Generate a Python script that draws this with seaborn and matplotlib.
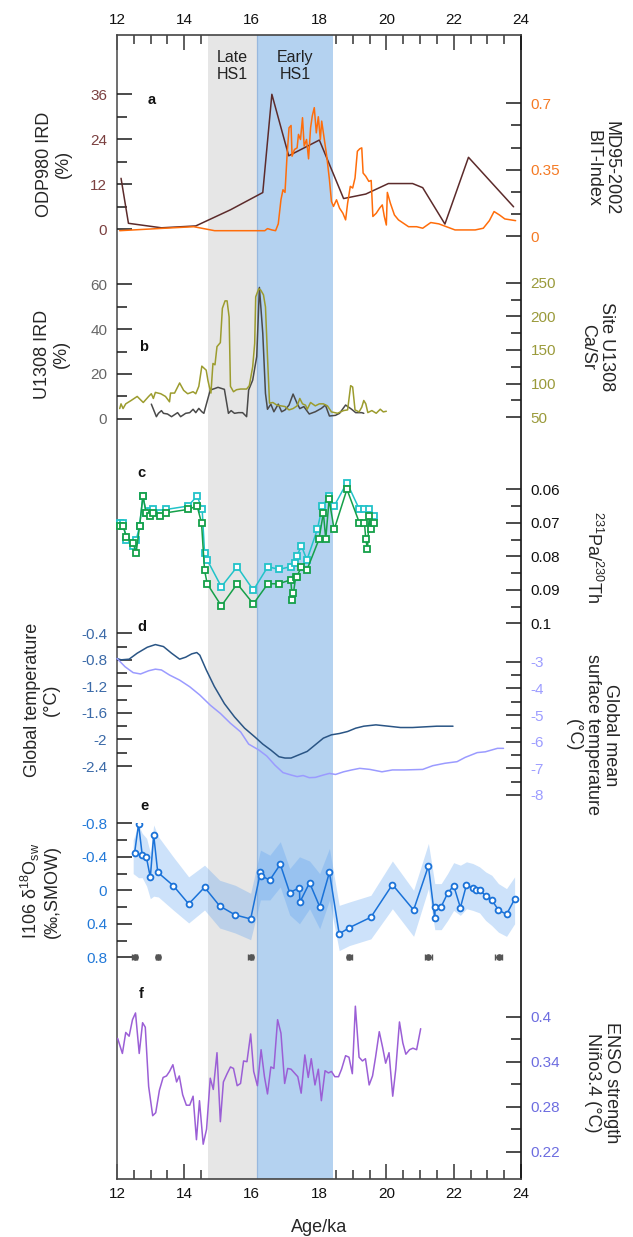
import numpy as np
import pandas as pd
import matplotlib
matplotlib.use("Agg")
import matplotlib.pyplot as plt
import matplotlib.transforms as mtransforms
from matplotlib.ticker import MultipleLocator, FixedLocator
import seaborn as sns

sns.set_theme(style="ticks")
plt.rcParams['font.family'] = ['Liberation Sans', 'DejaVu Sans']
plt.rcParams['mathtext.fontset'] = 'custom'
plt.rcParams['mathtext.rm'] = 'Liberation Sans'
plt.rcParams['mathtext.it'] = 'Liberation Sans:italic'
plt.rcParams['axes.unicode_minus'] = False

# ---------------- data ----------------
late_hs1 = [14.70, 16.15]
early_hs1 = [16.15, 18.43]

# a : ODP980 IRD (%) and MD95-2002 BIT index
ird_age = [12.12, 12.34, 13.32, 14.34, 15.37, 16.33, 16.60, 17.10, 18.01, 18.73,
           19.39, 20.06, 20.78, 21.08, 21.74, 22.44, 23.78]
ird_val = [13.6, 1.6, 0.4, 0.9, 5.2, 9.8, 36.0, 19.6, 23.8, 8.2,
           9.4, 12.2, 12.2, 11.1, 1.4, 19.2, 6.0]

bit_age = [12.08, 13.20, 14.28, 14.90, 16.39, 16.47, 16.60, 16.71, 16.79, 16.87,
           16.93, 16.99, 17.05, 17.11, 17.17, 17.20, 17.27, 17.35, 17.39, 17.45,
           17.51, 17.56, 17.63, 17.69, 17.75, 17.80, 17.86, 17.92, 17.98, 18.04,
           18.08, 18.13, 18.23, 18.31, 18.37, 18.43, 18.52, 18.61, 18.71, 18.79,
           18.85, 18.93, 19.00, 19.07, 19.14, 19.21, 19.27, 19.31, 19.39, 19.48,
           19.55, 19.60, 19.70, 19.80, 19.88, 19.94, 20.00, 20.03, 20.12, 20.24,
           20.36, 20.66, 20.90, 21.08, 21.32, 21.56, 21.86, 22.04, 22.34, 22.64,
           22.88, 23.06, 23.20, 23.36, 23.52, 23.84]
bit_val = [0.028, 0.039, 0.049, 0.028, 0.028, 0.039, 0.032, 0.028, 0.064, 0.191,
           0.244, 0.230, 0.421, 0.571, 0.583, 0.421, 0.456, 0.465, 0.536, 0.509,
           0.624, 0.474, 0.509, 0.407, 0.571, 0.633, 0.677, 0.544, 0.629, 0.509,
           0.606, 0.544, 0.421, 0.297, 0.182, 0.156, 0.191, 0.147, 0.120, 0.085,
           0.173, 0.262, 0.253, 0.306, 0.447, 0.460, 0.465, 0.332, 0.315, 0.288,
           0.293, 0.103, 0.120, 0.147, 0.164, 0.103, 0.058, 0.230, 0.173, 0.111,
           0.085, 0.049, 0.049, 0.041, 0.071, 0.064, 0.044, 0.032, 0.032, 0.032,
           0.041, 0.081, 0.129, 0.111, 0.090, 0.081]

# b : U1308 IRD (%) and Ca/Sr
u1308_age = [13.02, 13.17, 13.23, 13.32, 13.38, 13.50, 13.62, 13.80, 13.89, 14.04,
             14.16, 14.26, 14.34, 14.43, 14.52, 14.58, 14.77, 14.89, 15.00, 15.19,
             15.31, 15.39, 15.49, 15.61, 15.73, 15.85, 15.91, 16.03, 16.15, 16.23,
             16.33, 16.41, 16.47, 16.57, 16.66, 16.79, 16.89, 16.99, 17.11, 17.23,
             17.35, 17.43, 17.55, 17.71, 17.89, 18.07, 18.19, 18.31, 18.49, 18.61,
             18.79, 18.97, 19.09, 19.27, 19.33]
u1308_ird = [6.5, 0.9, 2.4, 3.6, 2.4, 2.1, 0.9, 2.7, 0.9, 2.4,
             2.7, 4.2, 2.7, 4.6, 3.1, 2.4, 12.8, 13.4, 14.0, 13.1,
             2.4, 3.6, 2.4, 2.7, 2.7, 0.9, 12.8, 17.2, 27.7, 58.6,
             38.1, 11.3, 4.2, 6.5, 3.1, 6.5, 3.1, 3.9, 6.1, 11.0,
             6.8, 4.5, 5.4, 2.1, 3.1, 4.6, 6.1, 1.2, 1.5, 2.4,
             6.1, 4.2, 2.7, 2.7, 2.4]

casr_age = [12.08, 12.12, 12.18, 12.26, 12.42, 12.60, 12.78, 12.94, 13.02, 13.08,
            13.14, 13.30, 13.44, 13.56, 13.59, 13.71, 13.86, 13.98, 14.10, 14.26,
            14.34, 14.43, 14.52, 14.65, 14.70, 14.74, 14.79, 14.85, 14.91, 14.97,
            15.07, 15.13, 15.21, 15.27, 15.33, 15.37, 15.46, 15.55, 15.67, 15.85,
            15.93, 16.03, 16.09, 16.12, 16.21, 16.27, 16.35, 16.41, 16.47, 16.53,
            16.63, 16.75, 16.87, 16.99, 17.11, 17.23, 17.35, 17.43, 17.51, 17.60,
            17.65, 17.75, 17.89, 18.01, 18.13, 18.25, 18.37, 18.55, 18.73, 18.85,
            18.94, 19.00, 19.07, 19.19, 19.27, 19.33, 19.39, 19.45, 19.57, 19.70,
            19.82, 19.91, 20.00]
casr_val = [63, 70, 63, 70, 75, 81, 72, 81, 85, 78,
            87, 85, 81, 73, 86, 86, 101, 90, 85, 88,
            85, 96, 126, 120, 105, 96, 86, 130, 128, 155,
            161, 212, 223, 223, 199, 96, 88, 91, 92, 92,
            97, 125, 160, 229, 241, 239, 232, 214, 140, 71,
            72, 68, 67, 66, 61, 63, 67, 78, 70, 68,
            62, 72, 67, 70, 70, 67, 58, 56, 60, 61,
            97, 95, 61, 58, 65, 75, 70, 57, 60, 56,
            62, 58, 59]

# c : 231Pa/230Th
pa_cyan_age = [12.08, 12.18, 12.28, 12.48, 12.57, 12.67, 12.77, 12.87, 12.97, 13.07,
               13.27, 13.47, 14.11, 14.38, 14.53, 14.60, 14.68, 15.10, 15.57, 16.05,
               16.48, 16.81, 17.16, 17.28, 17.34, 17.48, 17.64, 17.95, 18.10, 18.30,
               18.45, 18.83, 19.20, 19.35, 19.49, 19.64]
pa_cyan_val = [0.0702, 0.0702, 0.0751, 0.0770, 0.0751, 0.0710, 0.0620, 0.0672, 0.0665, 0.0660,
               0.0672, 0.0660, 0.0650, 0.0620, 0.0660, 0.0789, 0.0811, 0.0891, 0.0831, 0.0901,
               0.0831, 0.0839, 0.0831, 0.0819, 0.0799, 0.0769, 0.0811, 0.0720, 0.0650, 0.0620,
               0.0650, 0.0580, 0.0660, 0.0660, 0.0660, 0.0680]
pa_green_age = [12.08, 12.18, 12.28, 12.48, 12.57, 12.67, 12.77, 12.87, 12.97, 13.07,
                13.27, 13.47, 14.11, 14.38, 14.51, 14.60, 14.68, 15.10, 15.57, 16.05,
                16.48, 16.81, 17.16, 17.21, 17.24, 17.31, 17.34, 17.48, 17.64, 18.00,
                18.13, 18.20, 18.30, 18.45, 18.83, 19.20, 19.35, 19.39, 19.44, 19.49,
                19.54, 19.64]
pa_green_val = [0.0710, 0.0710, 0.0741, 0.0761, 0.0789, 0.0710, 0.0620, 0.0672, 0.0680, 0.0672,
                0.0680, 0.0670, 0.0660, 0.0650, 0.0700, 0.0841, 0.0882, 0.0948, 0.0882, 0.0942,
                0.0882, 0.0882, 0.0870, 0.0930, 0.0910, 0.0861, 0.0861, 0.0831, 0.0841, 0.0749,
                0.0670, 0.0749, 0.0630, 0.0720, 0.0600, 0.0700, 0.0700, 0.0749, 0.0779, 0.0680,
                0.0720, 0.0700]

# d : global temperature (left) and global mean surface temperature (right)
gt_age = [12.00, 12.12, 12.36, 12.60, 12.90, 13.14, 13.38, 13.62, 13.86, 14.04,
          14.22, 14.37, 14.46, 14.65, 14.89, 15.19, 15.49, 15.79, 16.09, 16.33,
          16.57, 16.81, 16.99, 17.17, 17.41, 17.65, 17.89, 18.13, 18.37, 18.61,
          18.85, 19.09, 19.33, 19.69, 20.06, 20.42, 20.78, 21.14, 21.50, 21.98]
gt_val = [-0.78, -0.80, -0.79, -0.70, -0.61, -0.57, -0.60, -0.70, -0.79, -0.76,
          -0.71, -0.69, -0.73, -0.95, -1.20, -1.46, -1.66, -1.83, -1.96, -2.07,
          -2.16, -2.26, -2.28, -2.28, -2.23, -2.18, -2.08, -1.98, -1.93, -1.91,
          -1.88, -1.83, -1.80, -1.78, -1.80, -1.82, -1.82, -1.81, -1.80, -1.80]
gmst_age = [12.00, 12.24, 12.48, 12.70, 12.94, 13.14, 13.32, 13.56, 13.86, 14.16,
            14.46, 14.77, 15.07, 15.37, 15.67, 15.91, 16.21, 16.45, 16.69, 16.93,
            17.17, 17.35, 17.53, 17.71, 17.89, 18.13, 18.31, 18.49, 18.73, 18.97,
            19.21, 19.51, 19.87, 20.18, 20.54, 21.08, 21.38, 21.74, 22.10, 22.34,
            22.70, 22.94, 23.30, 23.48]
gmst_val = [-2.88, -3.19, -3.41, -3.46, -3.34, -3.28, -3.31, -3.50, -3.69, -3.94,
            -4.25, -4.63, -4.94, -5.31, -5.63, -6.09, -6.31, -6.54, -6.88, -7.16,
            -7.25, -7.31, -7.27, -7.35, -7.34, -7.25, -7.19, -7.23, -7.13, -7.06,
            -7.00, -7.04, -7.13, -7.06, -7.06, -7.04, -6.90, -6.81, -6.75, -6.59,
            -6.41, -6.38, -6.25, -6.25]

# e : I106 d18Osw with uncertainty band and dated levels
d18o_age = [12.52, 12.64, 12.75, 12.87, 12.99, 13.09, 13.21, 13.67, 14.13, 14.60,
            15.05, 15.51, 15.97, 16.26, 16.27, 16.54, 16.85, 17.13, 17.42, 17.43,
            17.72, 18.02, 18.31, 18.60, 18.90, 19.54, 20.18, 20.81, 21.25, 21.44,
            21.45, 21.63, 21.82, 22.00, 22.20, 22.38, 22.57, 22.65, 22.77, 22.95,
            23.13, 23.33, 23.57, 23.81]
d18o_val = [-0.44, -0.79, -0.42, -0.40, -0.155, -0.66, -0.215, -0.056, 0.163, -0.036,
            0.187, 0.294, 0.342, -0.215, -0.175, -0.123, -0.31, 0.028, -0.032, 0.143,
            -0.09, 0.195, -0.215, 0.521, 0.446, 0.322, -0.068, 0.235, -0.29, 0.334,
            0.195, 0.195, 0.036, -0.056, 0.207, -0.064, -0.024, 0.0, 0.0, 0.064,
            0.115, 0.235, 0.287, 0.107]
env_age = [12.48, 12.64, 12.75, 12.88, 12.99, 13.09, 13.23, 13.67, 14.13, 14.60,
           15.05, 15.51, 15.97, 16.26, 16.54, 16.85, 17.13, 17.42, 17.72, 18.02,
           18.31, 18.60, 18.90, 19.54, 20.18, 20.81, 21.25, 21.44, 21.63, 21.82,
           22.00, 22.20, 22.38, 22.57, 22.77, 22.95, 23.13, 23.33, 23.57, 23.81]
env_hi = [-0.60, -0.78, -0.68, -0.62, -0.45, -0.78, -0.64, -0.40, -0.16, -0.30,
          -0.12, -0.06, 0.036, -0.48, -0.42, -0.58, -0.26, -0.40, -0.35, -0.20,
          -0.50, 0.18, 0.14, 0.06, -0.35, 0.00, -0.56, -0.08, -0.08, -0.20,
          -0.33, -0.30, -0.34, -0.32, -0.28, -0.22, -0.18, -0.08, -0.02, -0.16]
env_lo = [-0.20, -0.15, -0.15, -0.05, 0.10, 0.07, 0.08, 0.235, 0.39, 0.235,
          0.45, 0.51, 0.59, 0.115, 0.115, -0.04, 0.295, 0.40, 0.22, 0.46,
          0.12, 0.72, 0.66, 0.58, 0.22, 0.55, -0.02, 0.47, 0.47, 0.36,
          0.24, 0.30, 0.22, 0.24, 0.27, 0.36, 0.42, 0.50, 0.55, 0.40]
date_age = [12.52, 13.21, 15.97, 18.90, 21.25, 23.34]
date_err = [0.06, 0.06, 0.08, 0.08, 0.10, 0.10]
date_lvl = [0.8, 0.8, 0.8, 0.8, 0.8, 0.8]

# f : ENSO strength
enso_age = [12.02, 12.16, 12.26, 12.36, 12.46, 12.55, 12.66, 12.76, 12.84, 12.94,
            13.06, 13.15, 13.26, 13.37, 13.47, 13.56, 13.66, 13.77, 13.85, 13.95,
            14.06, 14.16, 14.26, 14.36, 14.45, 14.56, 14.66, 14.77, 14.86, 14.97,
            15.07, 15.16, 15.27, 15.37, 15.46, 15.57, 15.67, 15.76, 15.86, 15.97,
            16.06, 16.17, 16.28, 16.38, 16.47, 16.57, 16.66, 16.77, 16.87, 16.98,
            17.07, 17.17, 17.27, 17.37, 17.47, 17.58, 17.68, 17.77, 17.88, 17.98,
            18.07, 18.18, 18.28, 18.37, 18.47, 18.58, 18.67, 18.79, 18.89, 18.99,
            19.08, 19.19, 19.29, 19.38, 19.49, 19.59, 19.68, 19.79, 19.89, 19.98,
            20.08, 20.19, 20.28, 20.39, 20.49, 20.58, 20.69, 20.79, 20.90, 21.02]
enso_val = [0.371, 0.351, 0.379, 0.374, 0.396, 0.405, 0.351, 0.392, 0.386, 0.307,
            0.268, 0.272, 0.302, 0.319, 0.321, 0.327, 0.336, 0.313, 0.321, 0.296,
            0.282, 0.282, 0.294, 0.236, 0.288, 0.230, 0.250, 0.318, 0.303, 0.352,
            0.260, 0.313, 0.324, 0.333, 0.331, 0.308, 0.311, 0.341, 0.340, 0.377,
            0.327, 0.308, 0.356, 0.320, 0.297, 0.333, 0.331, 0.396, 0.378, 0.311,
            0.331, 0.330, 0.325, 0.320, 0.298, 0.349, 0.319, 0.344, 0.309, 0.330,
            0.288, 0.328, 0.325, 0.327, 0.320, 0.320, 0.330, 0.348, 0.346, 0.324,
            0.414, 0.346, 0.341, 0.344, 0.309, 0.321, 0.346, 0.380, 0.359, 0.338,
            0.352, 0.294, 0.330, 0.393, 0.365, 0.350, 0.356, 0.358, 0.356, 0.384]

# ---------------- layout (pixels of the 633 x 1237 canvas) ----------------
W, H = 633, 1237
X0, X1 = 117, 521
TOP, BOT = 35, 1179


def fy(px):
    return 1 - px / H


fig = plt.figure(figsize=(W / 100, H / 100), dpi=100)

ax0 = fig.add_axes([X0 / W, fy(BOT), (X1 - X0) / W, (BOT - TOP) / H])
ax0.set_xlim(12, 24)
ax0.set_ylim(0, 1)
ax0.set_yticks([])
ax0.axvspan(*late_hs1, color='#e6e6e6', lw=0)
ax0.axvspan(*early_hs1, color='#b4d2f0', lw=0)
ax0.axvline(early_hs1[0], color='#98b8de', lw=0.9)
ax0.xaxis.set_major_locator(MultipleLocator(2))
ax0.xaxis.set_minor_locator(MultipleLocator(0.5))
ax0.tick_params(axis='x', which='both', direction='in', top=True, bottom=True,
                labeltop=True, labelbottom=True, labelsize=11, pad=6,
                color='#333333', width=1.1, labelcolor='#111111')
ax0.tick_params(axis='x', which='major', length=11)
ax0.tick_params(axis='x', which='minor', length=6.5)
for side, c in [('left', '#555555'), ('right', '#111111'), ('top', '#444444'), ('bottom', '#444444')]:
    ax0.spines[side].set_color(c)
    ax0.spines[side].set_linewidth(1.2)
fig.text(((X0 + X1) / 2) / W, fy(1228), 'Age/ka', ha='center', va='center', fontsize=13)

blend = mtransforms.blended_transform_factory(ax0.transData, fig.transFigure)
ax0.text(np.mean(late_hs1), fy(66), 'Late\nHS1', transform=blend, ha='center',
         va='center', fontsize=11.5, color='#222222', linespacing=1.15)
ax0.text(np.mean(early_hs1), fy(66), 'Early\nHS1', transform=blend, ha='center',
         va='center', fontsize=11.5, color='#222222', linespacing=1.15)


def panel(top_px, bot_px, v_top, v_bot, side, color, major, minor):
    ax = fig.add_axes([X0 / W, fy(bot_px), (X1 - X0) / W, (bot_px - top_px) / H])
    ax.patch.set_visible(False)
    for s in ['top', 'bottom']:
        ax.spines[s].set_visible(False)
    for s in ['left', 'right']:
        ax.spines[s].set_linewidth(0)
        ax.spines[s].set_color('none')
    ax.set_xticks([])
    ax.yaxis.set_major_locator(FixedLocator(major))
    ax.yaxis.set_minor_locator(FixedLocator(minor))
    ax.set_yticklabels([f"{v:g}" for v in major])
    on_right = side == 'right'
    ax.tick_params(axis='y', which='both', direction='in', labelsize=11, pad=7,
                   labelcolor=color, color='#1a1a1a', width=1.1,
                   left=not on_right, right=on_right,
                   labelleft=not on_right, labelright=on_right)
    ax.tick_params(axis='y', which='major', length=11)
    ax.tick_params(axis='y', which='minor', length=7)
    ax.set_xlim(12, 24)
    ax.set_ylim(v_bot, v_top)
    return ax


def line(ax, x, y, color, **kw):
    sns.lineplot(x=x, y=y, ax=ax, color=color, linewidth=1.1, sort=False,
                 estimator=None, **kw)


# a
axa = panel(94.3, 229.3, 36, 0, 'left', '#7b4040', [0, 12, 24, 36], [6, 18, 30])
axa2 = panel(103.3, 236, 0.7, 0, 'right', '#f57a24', [0, 0.35, 0.7],
             [0.1167, 0.2333, 0.4667, 0.5833])
line(axa2, bit_age, bit_val, '#ff6d0a', clip_on=False)
line(axa, ird_age, ird_val, '#5c2b2b', clip_on=False)

# b
axb = panel(284.3, 418.7, 60, 0, 'left', '#666666', [0, 20, 40, 60], [10, 30, 50])
axb2 = panel(282.7, 417.3, 250, 50, 'right', '#9a9a3a', [50, 100, 150, 200, 250],
             [75, 125, 175, 225])
line(axb2, casr_age, casr_val, '#9c9c2e', clip_on=False)
line(axb, u1308_age, u1308_ird, '#4a4a4a', clip_on=False)

# c
axc = panel(489.3, 623.3, 0.06, 0.1, 'right', '#111111',
            [0.06, 0.07, 0.08, 0.09, 0.1], [0.065, 0.075, 0.085, 0.095])
for xs, ys, c in [(pa_cyan_age, pa_cyan_val, '#22c3c9'),
                  (pa_green_age, pa_green_val, '#15a049')]:
    line(axc, xs, ys, c, marker='s', markersize=4.2, markerfacecolor='white',
         markeredgecolor=c, markeredgewidth=1.3, clip_on=False)

# d
axd = panel(633.3, 766, -0.4, -2.4, 'left', '#3b6aa8',
            [-0.4, -0.8, -1.2, -1.6, -2, -2.4], [-0.6, -1.0, -1.4, -1.8, -2.2])
axd2 = panel(661.7, 795, -3, -8, 'right', '#9d9dff', [-3, -4, -5, -6, -7, -8],
             [-3.5, -4.5, -5.5, -6.5, -7.5])
line(axd2, gmst_age, gmst_val, '#9b9bff', clip_on=False)
line(axd, gt_age, gt_val, '#2a5585', clip_on=False)

# e
axe = panel(823.3, 957.3, -0.8, 0.8, 'left', '#2279d8',
            [-0.8, -0.4, 0, 0.4, 0.8], [-0.6, -0.2, 0.2, 0.6])
axe.fill_between(env_age, env_hi, env_lo, color='#5aa0f0', alpha=0.3, lw=0)
line(axe, d18o_age, d18o_val, '#1a72d8', marker='o', markersize=4.2,
     markerfacecolor='white', markeredgecolor='#1a72d8', markeredgewidth=1.3)
axe.errorbar(date_age, date_lvl, xerr=date_err, fmt='o', color='#555555', ms=3.8,
             capsize=2.5, elinewidth=1, capthick=1, clip_on=False)

# f
axf = panel(1016.7, 1151.7, 0.4, 0.22, 'right', '#6d6de0', [0.22, 0.28, 0.34, 0.4],
            [0.25, 0.31, 0.37])
line(axf, enso_age, enso_val, '#9b5fd6', clip_on=False)

# panel letters
for letter, xa, ypx in [('a', 13.02, 100), ('b', 12.78, 347), ('c', 12.72, 473),
                        ('d', 12.75, 627), ('e', 12.81, 806), ('f', 12.72, 994)]:
    ax0.text(xa, fy(ypx), letter, transform=blend, ha='center', va='center',
             fontsize=10.5, fontweight='bold', color='#111111')

# axis titles
left_labels = [("ODP980 IRD\n(%)", 54, 164),
               ("U1308 IRD\n(%)", 52, 354),
               ("Global temperature\n(°C)", 42, 700),
               ("I106 δ$^{18}$O$_{\\rm sw}$\n(‰,SMOW)", 40, 891)]
for txt, xpx, ypx in left_labels:
    fig.text(xpx / W, fy(ypx), txt, rotation=90, ha='center', va='center',
             multialignment='center', fontsize=13, linespacing=1.1)

right_labels = [("MD95-2002\nBIT-Index", 602, 168),
                ("Site U1308\nCa/Sr", 597, 347),
                ("$^{231}$Pa/$^{230}$Th", 593, 557),
                ("Global mean\nsurface temperature\n(°C)", 592, 735),
                ("ENSO strength\nNiño3.4 (°C)", 602, 1083)]
for txt, xpx, ypx in right_labels:
    fig.text(xpx / W, fy(ypx), txt, rotation=270, ha='center', va='center',
             multialignment='center', fontsize=13, linespacing=1.1)

fig.savefig('out.png', dpi=100)
